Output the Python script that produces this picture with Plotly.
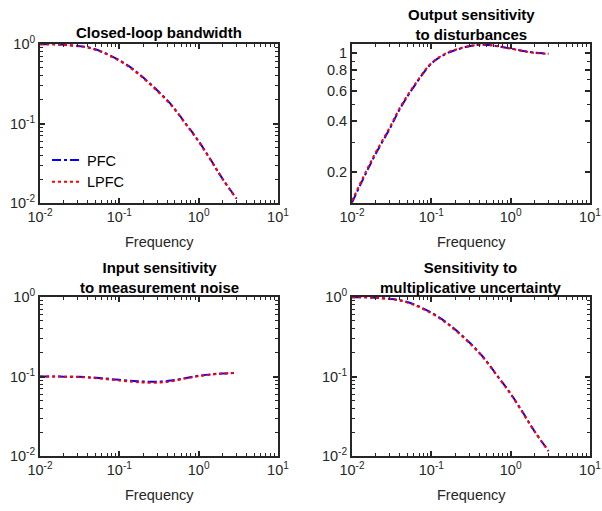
import plotly.graph_objects as go

# ---------------- data ----------------
freq = [0.01, 0.015, 0.02, 0.03, 0.04, 0.06, 0.1, 0.15, 0.2, 0.3, 0.45, 0.7, 1.0, 1.5, 2.0, 3.0]

# Closed-loop bandwidth
cl_pfc  = [0.995, 0.99, 0.975, 0.945, 0.91, 0.80, 0.625, 0.48, 0.38, 0.262, 0.173, 0.097, 0.060, 0.032, 0.0202, 0.0114]
cl_lpfc = [0.995, 0.99, 0.973, 0.940, 0.90, 0.79, 0.615, 0.47, 0.372, 0.257, 0.170, 0.096, 0.059, 0.0315, 0.0200, 0.0113]

# Output sensitivity to disturbances
os_pfc  = [0.133, 0.198, 0.258, 0.362, 0.470, 0.635, 0.870, 0.990, 1.045, 1.100, 1.125, 1.100, 1.068, 1.030, 1.010, 0.995]
os_lpfc = [0.136, 0.202, 0.263, 0.368, 0.478, 0.643, 0.876, 0.995, 1.050, 1.103, 1.127, 1.100, 1.066, 1.028, 1.008, 0.994]

# Input sensitivity to measurement noise
is_pfc  = [0.100, 0.100, 0.0995, 0.099, 0.098, 0.095, 0.091, 0.088, 0.0865, 0.086, 0.089, 0.096, 0.102, 0.107, 0.109, 0.111]
is_lpfc = [0.100, 0.100, 0.0995, 0.0985, 0.097, 0.094, 0.089, 0.086, 0.084, 0.0835, 0.087, 0.095, 0.101, 0.106, 0.109, 0.111]

# Sensitivity to multiplicative uncertainty
mu_pfc  = [0.995, 0.99, 0.977, 0.948, 0.912, 0.81, 0.635, 0.49, 0.39, 0.27, 0.176, 0.098, 0.061, 0.0325, 0.0205, 0.0116]
mu_lpfc = [0.995, 0.99, 0.975, 0.943, 0.905, 0.80, 0.625, 0.48, 0.382, 0.265, 0.173, 0.097, 0.060, 0.032, 0.0203, 0.0115]

titles = ["Closed-loop bandwidth",
          "Output sensitivity<br>to disturbances",
          "Input sensitivity<br>to measurement noise",
          "Sensitivity to<br>multiplicative uncertainty"]
series_names = ["PFC", "LPFC"]

x_tickvals = [0.01, 0.1, 1, 10]
x_ticktext = ["10<sup>-2</sup>", "10<sup>-1</sup>", "10<sup>0</sup>", "10<sup>1</sup>"]
y_tickvals = [0.01, 0.1, 1]
y_ticktext = ["10<sup>-2</sup>", "10<sup>-1</sup>", "10<sup>0</sup>"]
tr_tickvals = [0.2, 0.4, 0.6, 0.8, 1]
tr_ticktext = ["0.2", "0.4", "0.6", "0.8", "1"]
xlabel = "Frequency"

# ---------------- layout geometry ----------------
W, H = 602, 511
FONT = "Liberation Sans, Arial, sans-serif"
AX = "#262626"

panels = [
    dict(x=(40, 278), y=(44, 203), pfc=cl_pfc, lpfc=cl_lpfc, yr=[-2, 0], yt=(y_tickvals, y_ticktext)),
    dict(x=(352, 590), y=(44, 203), pfc=os_pfc, lpfc=os_lpfc, yr=[-0.879, 0.055], yt=(tr_tickvals, tr_ticktext)),
    dict(x=(40, 278), y=(297, 456), pfc=is_pfc, lpfc=is_lpfc, yr=[-2, 0], yt=(y_tickvals, y_ticktext)),
    dict(x=(352, 590), y=(297, 456), pfc=mu_pfc, lpfc=mu_lpfc, yr=[-2, 0], yt=(y_tickvals, y_ticktext)),
]

x_minor = [m * 10 ** e for e in range(-2, 1) for m in range(2, 10)]
y_minor = [m * 10 ** e for e in range(-2, 0) for m in range(2, 10)]
tr_minor = [0.3, 0.5, 0.7, 0.9]

fig = go.Figure()
annotations = []
for i, p in enumerate(panels):
    n = "" if i == 0 else str(i + 1)
    xa, ya = "x" + n, "y" + n
    fig.add_trace(go.Scatter(x=freq, y=p["pfc"], mode="lines", name=series_names[0],
                             line=dict(color="#0000FF", width=2, dash="dashdot", shape="spline"),
                             xaxis=xa, yaxis=ya, showlegend=(i == 0), legendgroup="a"))
    fig.add_trace(go.Scatter(x=freq, y=p["lpfc"], mode="lines", name=series_names[1],
                             line=dict(color="#FF0000", width=2, dash="dot", shape="spline"),
                             xaxis=xa, yaxis=ya, showlegend=(i == 0), legendgroup="b"))
    common = dict(type="log", showgrid=False, zeroline=False, showline=True, linecolor=AX,
                  linewidth=2, mirror="allticks", ticks="inside", ticklen=5, tickwidth=1.5,
                  tickcolor=AX, automargin=False,
                  tickfont=dict(family=FONT, size=14.5, color=AX))
    fig.update_layout(**{
        "xaxis" + n: dict(common, domain=[p["x"][0] / W, p["x"][1] / W], range=[-2, 1],
                          tickvals=x_tickvals, ticktext=x_ticktext, anchor=ya,
                          minor=dict(ticks="inside", ticklen=3, tickwidth=1.2, tickcolor=AX,
                                     tickvals=x_minor)),
        "yaxis" + n: dict(common, domain=[1 - p["y"][1] / H, 1 - p["y"][0] / H], range=p["yr"],
                          tickvals=p["yt"][0], ticktext=p["yt"][1], anchor=xa,
                          minor=dict(ticks="inside", ticklen=3, tickwidth=1.2, tickcolor=AX,
                                     tickvals=(tr_minor if i == 1 else y_minor))),
    })
    cx = (p["x"][0] + p["x"][1]) / 2 / W
    two = "<br>" in titles[i]
    ty = (p["y"][0] - (20 if two else 11)) / H
    annotations.append(dict(text="<b>" + titles[i] + "</b>", x=cx, y=1 - ty, xref="paper", yref="paper",
                            xanchor="center", yanchor="middle", showarrow=False,
                            font=dict(family=FONT, size=15, color="black")))
    annotations.append(dict(text=xlabel, x=cx, y=1 - (p["y"][1] + 39) / H, xref="paper", yref="paper",
                            xanchor="center", yanchor="middle", showarrow=False,
                            font=dict(family=FONT, size=14.5, color=AX)))

fig.update_layout(
    width=W, height=H, margin=dict(l=0, r=0, t=0, b=0, autoexpand=False),
    paper_bgcolor="white", plot_bgcolor="white",
    annotations=annotations,
    legend=dict(x=47 / W, y=1 - 144 / H, xanchor="left", yanchor="top",
                bgcolor="rgba(0,0,0,0)", borderwidth=0, tracegroupgap=0,
                font=dict(family=FONT, size=14.5, color="black"), itemwidth=30),
)

fig.write_html("out.html", config={"displayModeBar": False},
               post_script="document.body.style.margin='0';document.body.style.padding='0';")
